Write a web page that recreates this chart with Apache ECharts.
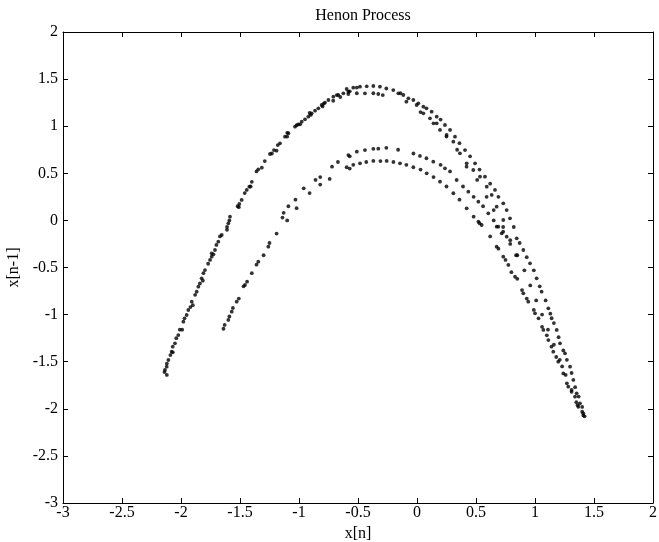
<!DOCTYPE html>
<html>
<head>
<meta charset="utf-8">
<script src="https://cdn.jsdelivr.net/npm/echarts@6/dist/echarts.min.js"></script>
<style>html,body{margin:0;padding:0;background:#fff}#c{width:659px;height:542px}</style>
</head>
<body>
<div id="c"></div>
<script>
// tick values
var xTicks = [-3, -2.5, -2, -1.5, -1, -0.5, 0, 0.5, 1, 1.5, 2];
var yTicks = [-3, -2.5, -2, -1.5, -1, -0.5, 0, 0.5, 1, 1.5, 2];

// outer band, upper strand [x[n], x[n-1]]
var outerUpper = [[-2.14,-1.61],[-2.136,-1.588],[-2.121,-1.553],[-2.12,-1.52],[-2.107,-1.482],[-2.09,-1.43],[-2.079,-1.394],[-2.07,-1.34],[-2.051,-1.305],[-2.04,-1.25],[-2.023,-1.217],[-2.01,-1.16],[-1.98,-1.075],[-1.97,-1.04],[-1.952,-1.004],[-1.938,-0.951],[-1.92,-0.92],[-1.909,-0.863],[-1.88,-0.79],[-1.867,-0.757],[-1.853,-0.704],[-1.84,-0.67],[-1.825,-0.615],[-1.81,-0.56],[-1.797,-0.527],[-1.77,-0.46],[-1.754,-0.42],[-1.74,-0.385],[-1.74,-0.35],[-1.712,-0.314],[-1.70,-0.26],[-1.684,-0.226],[-1.67,-0.17],[-1.655,-0.155],[-1.61,-0.07],[-1.599,-0.031],[-1.59,0.00],[-1.585,0.04],[-1.52,0.15],[-1.506,0.174],[-1.486,0.217],[-1.46,0.29],[-1.443,0.323],[-1.421,0.358],[-1.40,0.41],[-1.36,0.52],[-1.345,0.542],[-1.29,0.63],[-1.246,0.705],[-1.23,0.71],[-1.212,0.747],[-1.18,0.80],[-1.161,0.818],[-1.119,0.889],[-1.10,0.93],[-1.09,0.925],[-1.034,0.995],[-1.02,1.01],[-1.006,1.02],[-0.977,1.048],[-0.949,1.073],[-0.921,1.101],[-0.91,1.14],[-0.893,1.137],[-0.864,1.165],[-0.836,1.19],[-0.808,1.225],[-0.79,1.24],[-0.78,1.25],[-0.751,1.278],[-0.709,1.313],[-0.68,1.33],[-0.667,1.331],[-0.624,1.349],[-0.596,1.395],[-0.582,1.366],[-0.57,1.37],[-0.54,1.409],[-0.51,1.41],[-0.483,1.42],[-0.426,1.423],[-0.37,1.427],[-0.314,1.42],[-0.26,1.40],[-0.201,1.384],[-0.158,1.349],[-0.14,1.35],[-0.116,1.331],[-0.073,1.296],[-0.031,1.278],[0.011,1.243],[0.054,1.207],[0.08,1.19],[0.124,1.154],[0.167,1.101],[0.20,1.07],[0.237,1.013],[0.28,0.96],[0.322,0.889],[0.36,0.82],[0.407,0.747],[0.45,0.68],[0.492,0.606],[0.53,0.54],[0.576,0.464],[0.62,0.39],[0.661,0.323],[0.69,0.25],[0.731,0.181],[0.76,0.11],[0.788,0.022],[0.82,-0.07],[0.845,-0.19],[0.87,-0.24],[0.901,-0.314],[0.93,-0.39],[0.958,-0.456],[0.99,-0.53],[1.014,-0.615],[1.04,-0.70],[1.056,-0.757],[1.09,-0.85],[1.113,-0.933],[1.13,-0.99],[1.141,-1.039],[1.16,-1.09],[1.184,-1.163],[1.20,-1.24],[1.212,-1.305],[1.24,-1.38],[1.254,-1.411],[1.27,-1.48],[1.297,-1.553],[1.31,-1.62],[1.325,-1.694],[1.34,-1.77],[1.353,-1.836],[1.37,-1.87],[1.381,-1.942],[1.40,-1.98],[1.409,-2.048],[1.42,-2.08]];

// outer band, lower strand
var outerLower = [[-2.12,-1.64],[-2.07,-1.40],[-1.99,-1.16],[-1.90,-0.90],[-1.815,-0.64],[-1.725,-0.36],[-1.61,-0.10],[-1.51,0.14],[-1.41,0.36],[-1.315,0.56],[-1.19,0.74],[-1.10,0.89],[-0.99,1.02],[-0.90,1.12],[-0.80,1.21],[-0.71,1.27],[-0.65,1.31],[-0.582,1.342],[-0.51,1.35],[-0.441,1.349],[-0.37,1.35],[-0.328,1.342],[-0.29,1.33],[-0.09,1.26],[0.03,1.15],[0.14,1.03],[0.25,0.89],[0.34,0.75],[0.42,0.57],[0.51,0.43],[0.59,0.25],[0.65,0.11],[0.73,-0.07],[0.79,-0.21],[0.85,-0.37],[0.91,-0.53],[0.96,-0.69],[1.01,-0.85],[1.06,-1.00],[1.11,-1.16],[1.16,-1.32],[1.21,-1.48],[1.26,-1.64],[1.31,-1.80],[1.36,-1.96],[1.41,-2.07]];

// outer band, middle strand on the right-hand side
var outerMiddle = [[-0.003,1.225],[0.054,1.137],[0.110,1.084],[0.167,1.031],[0.195,0.96],[0.251,0.907],[0.308,0.836],[0.364,0.712],[0.421,0.606],[0.477,0.535],[0.534,0.464],[0.591,0.358],[0.633,0.270],[0.675,0.146],[0.731,0.004],[0.675,-0.067],[0.718,-0.137],[0.76,-0.173],[0.548,-0.049]];

// inner band, upper strand
var innerUpper = [[-1.64,-1.15],[-1.63,-1.11],[-1.599,-1.057],[-1.59,-1.02],[-1.57,-0.969],[-1.56,-0.93],[-1.528,-0.863],[-1.51,-0.83],[-1.47,-0.70],[-1.458,-0.686],[-1.44,-0.65],[-1.40,-0.56],[-1.36,-0.47],[-1.345,-0.438],[-1.30,-0.37],[-1.26,-0.279],[-1.25,-0.24],[-1.19,-0.14],[-1.14,0.03],[-1.13,0.08],[-1.09,0.15],[-1.03,0.22],[-0.96,0.34],[-0.86,0.43],[-0.82,0.46],[-0.72,0.57],[-0.67,0.62],[-0.582,0.694],[-0.57,0.68],[-0.51,0.73],[-0.441,0.747],[-0.37,0.76],[-0.328,0.761],[-0.26,0.77],[-0.16,0.75],[-0.03,0.71],[0.025,0.684],[0.08,0.66],[0.138,0.623],[0.20,0.59],[0.237,0.553],[0.28,0.52],[0.336,0.429],[0.39,0.36],[0.435,0.305],[0.48,0.25],[0.52,0.199],[0.56,0.15],[0.604,0.075],[0.65,0.00],[0.689,-0.067],[0.73,-0.12],[0.79,-0.25],[0.84,-0.37]];

// inner band, lower strand
var innerLower = [[-1.10,0.00],[-1.02,0.13],[-0.91,0.29],[-0.82,0.38],[-0.74,0.44],[-0.596,0.564],[-0.57,0.55],[-0.54,0.59],[-0.483,0.606],[-0.43,0.62],[-0.37,0.631],[-0.31,0.63],[-0.257,0.631],[-0.20,0.62],[-0.144,0.606],[-0.09,0.59],[-0.031,0.564],[0.03,0.54],[0.082,0.5],[0.14,0.46],[0.195,0.411],[0.25,0.36],[0.308,0.288],[0.36,0.22],[0.421,0.128],[0.48,0.04],[0.52,-0.014],[0.53,-0.03],[0.62,-0.17],[0.675,-0.279],[0.69,-0.30],[0.731,-0.385],[0.75,-0.42],[0.774,-0.473],[0.80,-0.55],[0.831,-0.598],[0.85,-0.62],[0.89,-0.74],[0.901,-0.774],[0.93,-0.83],[0.943,-0.863],[0.99,-0.95],[1.0,-0.986],[1.03,-1.04],[1.06,-1.13],[1.071,-1.163],[1.10,-1.22],[1.113,-1.27],[1.14,-1.34],[1.155,-1.394],[1.18,-1.45],[1.197,-1.5],[1.23,-1.55],[1.24,-1.624],[1.27,-1.73],[1.282,-1.765],[1.31,-1.82],[1.339,-1.871],[1.35,-1.93],[1.367,-1.978],[1.40,-2.03]];

var FONT = 'Liberation Serif';
var FS = 16;
var chart = echarts.init(document.getElementById('c'), null, {renderer: 'canvas'});

function axisCommon(showLabel, ticks) {
  return {
    type: 'value', min: ticks[0], max: ticks[ticks.length - 1], interval: 0.5,
    axisLine: {show: true, onZero: false, lineStyle: {color: '#000', width: 1}},
    axisTick: {show: true, inside: true, length: 5, lineStyle: {color: '#000'}},
    splitLine: {show: false},
    axisLabel: {show: showLabel, color: '#000', fontFamily: FONT, fontSize: FS}
  };
}

var xb = axisCommon(true, xTicks);
xb.position = 'bottom';
xb.axisLabel.margin = 2;
xb.name = 'x[n]'; xb.nameLocation = 'middle'; xb.nameGap = 21;
xb.nameTextStyle = {color: '#000', fontFamily: FONT, fontSize: FS};
var xt = axisCommon(false, xTicks); xt.position = 'top';
var yl = axisCommon(true, yTicks);
yl.position = 'left'; yl.axisLabel.margin = 5;
yl.name = 'x[n-1]'; yl.nameLocation = 'middle'; yl.nameGap = 35; yl.nameRotate = 90;
yl.nameTextStyle = {color: '#000', fontFamily: FONT, fontSize: FS};
var yr = axisCommon(false, yTicks); yr.position = 'right';

function sc(d) {
  return {type: 'scatter', data: d, symbol: 'circle', symbolSize: 3.8,
    itemStyle: {color: '#000'}, silent: true, animation: false};
}

chart.setOption({
  animation: false,
  backgroundColor: '#fff',
  title: {text: 'Henon Process', left: 358, top: 3, textAlign: 'center',
    textStyle: {color: '#000', fontFamily: FONT, fontSize: FS, fontWeight: 'normal'}},
  grid: {left: 63, right: 6, top: 32, bottom: 39, containLabel: false, outerBoundsMode: 'none'},
  xAxis: [xb, xt],
  yAxis: [yl, yr],
  series: [sc(outerUpper), sc(outerLower), sc(outerMiddle), sc(innerUpper), sc(innerLower)]
});
</script>
</body>
</html>
